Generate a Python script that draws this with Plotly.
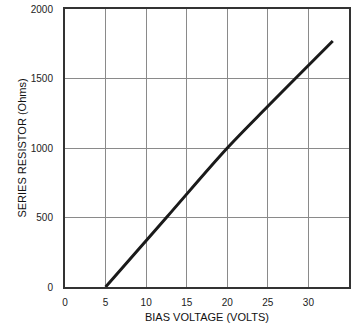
import plotly.graph_objects as go

bias_voltage = [5.0, 12.5, 20.0, 25.0, 28.3, 33.0]
series_resistor = [0, 500, 1000, 1300, 1495, 1770]

x_ticks = [0, 5, 10, 15, 20, 25, 30, 35]
y_ticks = [0, 500, 1000, 1500, 2000]

fig = go.Figure()
fig.add_trace(go.Scatter(
    x=bias_voltage, y=series_resistor, mode="lines",
    line=dict(color="#1a1a1a", width=3, shape="spline", smoothing=1.0), showlegend=False,
))

font = dict(family="Liberation Sans, Arial, sans-serif", size=10, color="#222")

fig.update_layout(
    width=353, height=327,
    margin=dict(l=65, r=4, t=9, b=40),
    paper_bgcolor="white", plot_bgcolor="white",
    font=font,
    xaxis=dict(
        range=[0, 35], tickvals=x_ticks, showgrid=True, gridcolor="#8a8a8a", gridwidth=1,
        showline=True, linecolor="#333", linewidth=2, mirror=True, zeroline=False,
        ticks="", ticklabelstandoff=5, automargin=False,
        title=dict(text="BIAS VOLTAGE (VOLTS)", font=dict(size=11, color="#111"), standoff=6),
    ),
    yaxis=dict(
        range=[0, 2000], tickvals=y_ticks, showgrid=True, gridcolor="#8a8a8a", gridwidth=1,
        showline=True, linecolor="#333", linewidth=2, mirror=True, zeroline=False,
        ticks="", ticklabelstandoff=8, automargin=False,
        title=dict(text="SERIES RESISTOR (Ohms)", font=dict(size=11, color="#111"), standoff=2),
    ),
)

fig.write_html(
    "out.html",
    config={"displayModeBar": False},
    post_script="document.body.style.margin='0';document.body.style.overflow='hidden';",
)
